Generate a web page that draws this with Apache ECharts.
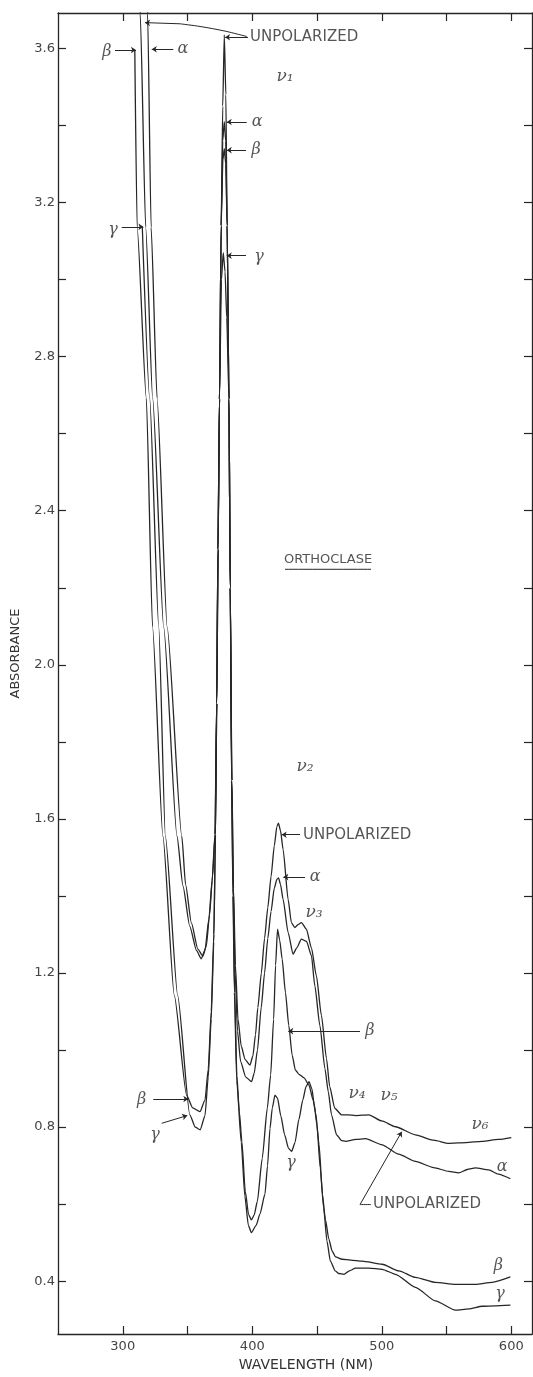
<!DOCTYPE html>
<html><head><meta charset="utf-8">
<script src="https://cdn.jsdelivr.net/npm/echarts@6/dist/echarts.min.js"></script>
<style>html,body{margin:0;padding:0;background:#fff}#c{width:533px;height:1377px}</style>
</head><body><div id="c"></div>
<script>
// ---- data (wavelength nm, absorbance) ----
const unpolWl  = [312.9,313.5,317.7,323.1,331.6,341.9,346.5,351.7,357.0,360.6,363.5,366.5,369.0,371.2,372.5,373.5,374.7,376.0,377.2,378.4,379.6,380.6,382.0,383.0,384.3,385.5,387.0,389.0,391.5,394.5,398.2,400.5,402.5,404.3,407.0,409.5,412.0,414.5,417.0,419.0,420.2,421.8,423.8,427.7,430.2,432.8,435.5,438.0,441.8,445.7,449.5,453.4,457.3,459.8,463.7,468.9,474.0,479.7,490.0,500.0,510.6,526.0,540.0,551.8,565.0,577.5,590.0,600.0];
const unpolAbs = [3.75,3.69,3.136,2.692,2.098,1.555,1.426,1.322,1.258,1.237,1.26,1.34,1.44,1.56,1.90,2.30,2.69,3.14,3.45,3.635,3.48,3.14,2.69,2.20,1.70,1.42,1.22,1.08,1.01,0.975,0.961,0.985,1.04,1.11,1.20,1.29,1.37,1.45,1.53,1.58,1.589,1.57,1.521,1.391,1.331,1.318,1.326,1.331,1.314,1.265,1.193,1.090,0.978,0.905,0.849,0.832,0.832,0.830,0.832,0.816,0.801,0.780,0.766,0.758,0.760,0.763,0.768,0.773];

const alphaWl  = [318.8,319.2,321.9,326.5,334.3,345.6,348.5,353.0,358.0,361.9,364.5,367.0,369.3,371.3,372.5,373.5,374.7,376.0,377.2,378.4,379.5,380.6,382.0,383.0,384.2,385.4,386.8,388.6,391.0,395.0,399.5,401.5,404.0,406.9,409.5,412.0,414.5,417.0,419.0,420.3,421.8,423.8,427.7,431.5,434.5,437.9,441.9,445.7,448.3,452.2,456.1,458.7,461.2,465.1,469.0,472.0,480.0,487.4,500.3,513.0,526.0,540.0,551.8,559.5,566.0,572.3,582.6,590.0,599.3];
const alphaAbs = [3.75,3.69,3.136,2.692,2.098,1.555,1.43,1.33,1.262,1.244,1.27,1.35,1.45,1.56,1.90,2.30,2.69,3.14,3.36,3.41,3.36,3.14,2.69,2.20,1.70,1.42,1.20,1.05,0.97,0.93,0.918,0.94,1.00,1.11,1.20,1.29,1.36,1.42,1.443,1.447,1.43,1.391,1.305,1.249,1.266,1.288,1.282,1.245,1.167,1.064,0.952,0.892,0.832,0.780,0.765,0.763,0.768,0.770,0.754,0.730,0.711,0.695,0.685,0.681,0.690,0.694,0.689,0.678,0.666];

const betaWl  = [309.3,311.1,318.2,323.0,331.0,339.8,349.3,354.0,359.6,363.5,366.0,368.3,370.3,371.6,372.6,373.6,374.7,376.0,377.3,378.4,379.5,380.6,382.0,383.0,384.1,385.2,386.4,388.1,390.0,392.0,394.6,397.2,399.3,401.5,403.9,407.7,411.6,414.2,416.5,418.0,419.5,421.2,423.1,425.6,428.2,430.8,433.3,436.1,440.0,443.8,447.0,449.0,451.6,454.2,456.5,459.1,461.7,464.3,469.4,476.0,484.8,500.3,513.2,526.0,541.4,556.9,572.3,585.2,599.3];
const betaAbs = [3.596,3.136,2.692,2.098,1.555,1.142,0.883,0.850,0.840,0.87,0.95,1.10,1.30,1.56,1.90,2.30,2.69,3.14,3.31,3.34,3.30,3.14,2.69,2.20,1.70,1.40,1.15,0.935,0.84,0.762,0.633,0.573,0.559,0.572,0.607,0.719,0.849,0.935,1.08,1.22,1.314,1.285,1.236,1.150,1.064,0.987,0.948,0.937,0.928,0.909,0.870,0.835,0.754,0.625,0.560,0.510,0.478,0.463,0.457,0.455,0.452,0.444,0.427,0.410,0.397,0.392,0.392,0.397,0.411];

const gammaWl  = [315.1,320.8,327.8,332.9,342.4,351.8,356.0,359.8,363.5,366.0,368.3,370.3,371.6,372.6,373.6,374.7,376.2,377.6,379.0,380.3,382.0,383.0,384.0,385.1,386.2,388.0,391.5,394.3,397.0,399.3,403.0,406.0,409.8,411.8,413.7,415.5,417.5,419.5,422.0,425.0,428.0,430.4,433.0,436.0,439.0,441.5,443.8,446.0,447.8,449.9,452.5,455.1,457.7,460.3,464.1,466.9,470.8,475.0,479.7,490.0,500.3,510.6,526.0,541.4,556.9,567.2,577.5,599.3];
const gammaAbs = [3.136,2.692,2.098,1.555,1.142,0.832,0.800,0.793,0.83,0.93,1.08,1.28,1.56,1.90,2.30,2.69,3.00,3.07,3.02,2.90,2.69,2.20,1.70,1.40,1.15,0.92,0.76,0.62,0.545,0.526,0.545,0.575,0.626,0.70,0.797,0.85,0.883,0.875,0.830,0.780,0.745,0.737,0.760,0.820,0.870,0.905,0.918,0.900,0.860,0.806,0.694,0.590,0.504,0.452,0.427,0.420,0.418,0.427,0.434,0.434,0.431,0.418,0.384,0.349,0.325,0.328,0.335,0.338];

// ---- axes ----
const xTicks = [300,350,400,450,500,550,600];
const xTickLabels = [300,400,500,600];
const yTicks = [0.4,0.6,0.8,1.0,1.2,1.4,1.6,1.8,2.0,2.2,2.4,2.6,2.8,3.0,3.2,3.4,3.6];
const yTickLabels = [0.4,0.8,1.2,1.6,2.0,2.4,2.8,3.2,3.6];

// ---- annotations (text, wavelength, absorbance, align, kind) ----
const noteTexts = [
  ['UNPOLARIZED',398.3,3.630,'left','caps'],
  ['α',346.5,3.598,'center','greek'],
  ['β',287.8,3.591,'center','greek'],
  ['γ',292.5,3.129,'center','greek'],
  ['ν₁',425.3,3.527,'center','nu'],
  ['α',403.7,3.409,'center','greek'],
  ['β',402.9,3.336,'center','greek'],
  ['γ',405.2,3.059,'center','greek'],
  ['ORTHOCLASE',458.5,2.273,'center','small'],
  ['ν₂',440.7,1.736,'center','nu'],
  ['UNPOLARIZED',439.2,1.559,'left','caps'],
  ['α',448.5,1.449,'center','greek'],
  ['ν₃',447.7,1.356,'center','nu'],
  ['β',490.9,1.049,'center','greek'],
  ['ν₄',480.9,0.886,'center','nu'],
  ['ν₅',505.6,0.883,'center','nu'],
  ['ν₆',575.9,0.806,'center','nu'],
  ['α',592.9,0.697,'center','greek'],
  ['UNPOLARIZED',493.2,0.599,'left','caps'],
  ['β',590.0,0.440,'center','greek'],
  ['γ',591.3,0.366,'center','greek'],
  ['β',314.6,0.870,'center','greek'],
  ['γ',324.9,0.780,'center','greek'],
  ['γ',429.9,0.707,'center','greek']
];
// arrows: [x at curve, y at curve, x at label, y at label]
const noteArrows = [
  [322.4,3.598,339.0,3.598],
  [310.2,3.596,294.0,3.596],
  [315.9,3.137,299.2,3.137],
  [379.0,3.629,396.7,3.629],
  [317.2,3.667,344.2,3.664],
  [380.3,3.409,395.7,3.409],
  [380.3,3.336,395.2,3.336],
  [380.3,3.062,395.2,3.062],
  [422.7,1.559,436.9,1.559],
  [424.0,1.449,440.7,1.449],
  [427.8,1.049,483.2,1.049],
  [350.6,0.873,323.6,0.873],
  [349.8,0.830,330.1,0.810],
  [515.4,0.788,483.2,0.599]
];
// plain leader strokes (polylines)
const notePolylines = [
  [[344.2,3.664],[359.7,3.657],[379.0,3.645],[395.7,3.631]],
  [[483.2,0.599],[491.7,0.599]],
  [[425.3,2.248],[491.7,2.248]]
];

const pairs = (xs, ys) => xs.map((x, i) => [x, ys[i]]);
const ink = '#262626';
function curve(name, xs, ys) {
  return { type:'line', name, data: pairs(xs, ys), symbol:'none', showSymbol:false,
    smooth:0.2, smoothMonotone:'x', clip:true, silent:true, z:3,
    lineStyle:{ color:ink, width:1.3 } };
}
const fonts = {
  caps:{ fontFamily:'DejaVu Sans', fontSize:15, color:'#2a2a2a' },
  small:{ fontFamily:'DejaVu Sans', fontSize:13, color:'#2a2a2a' },
  greek:{ fontFamily:'DejaVu Serif', fontStyle:'italic', fontSize:16, color:'#2a2a2a' },
  nu:{ fontFamily:'DejaVu Serif', fontStyle:'italic', fontSize:17, color:'#2a2a2a' }
};
const polySeries = notePolylines.map(pl => ({
  type:'line', data: pl, symbol:'none', showSymbol:false, silent:true, clip:false, z:4,
  lineStyle:{ color:ink, width:1 }, smooth:0.3
}));

const option = {
  animation:false,
  backgroundColor:'#fff',
  grid:{ left:58, right:1, top:13, bottom:37, containLabel:false },
  xAxis:[
    { type:'value', position:'bottom', min:250, max:616,
      name:'WAVELENGTH (NM)', nameLocation:'middle', nameGap:24,
      nameTextStyle:{ fontFamily:'DejaVu Sans', fontSize:14, color:'#333', padding:[0,0,0,22] },
      axisLine:{ show:true, onZero:false, lineStyle:{ color:ink, width:1.3 } },
      axisTick:{ show:true, inside:true, length:8, customValues:xTicks, lineStyle:{ color:ink, width:1.2 } },
      axisLabel:{ show:true, customValues:xTickLabels, margin:6, fontFamily:'DejaVu Sans', fontSize:13, color:'#444' },
      splitLine:{ show:false } },
    { type:'value', position:'top', min:250, max:616,
      axisLine:{ show:true, onZero:false, lineStyle:{ color:ink, width:1.3 } },
      axisTick:{ show:true, inside:true, length:8, customValues:xTicks, lineStyle:{ color:ink, width:1.2 } },
      axisLabel:{ show:false }, splitLine:{ show:false } }
  ],
  yAxis:[
    { type:'value', position:'left', min:0.263, max:3.692,
      name:'ABSORBANCE', nameLocation:'middle', nameGap:36,
      nameTextStyle:{ fontFamily:'DejaVu Sans', fontSize:13, color:'#333', padding:[0,0,0,40] },
      axisLine:{ show:true, onZero:false, lineStyle:{ color:ink, width:1.3 } },
      axisTick:{ show:true, inside:true, length:8, customValues:yTicks, lineStyle:{ color:ink, width:1.2 } },
      axisLabel:{ show:true, customValues:yTickLabels, margin:3, fontFamily:'DejaVu Sans', fontSize:13, color:'#444',
        formatter: v => v.toFixed(1) },
      splitLine:{ show:false } },
    { type:'value', position:'right', min:0.263, max:3.692,
      axisLine:{ show:true, onZero:false, lineStyle:{ color:ink, width:1.3 } },
      axisTick:{ show:true, inside:true, length:8, customValues:yTicks, lineStyle:{ color:ink, width:1.2 } },
      axisLabel:{ show:false }, splitLine:{ show:false } }
  ],
  series:[
    curve('UNPOLARIZED', unpolWl, unpolAbs),
    curve('α', alphaWl, alphaAbs),
    curve('β', betaWl, betaAbs),
    curve('γ', gammaWl, gammaAbs),
    { type:'scatter', name:'notes', symbolSize:0, silent:true, z:5, clip:false,
      data: noteTexts.map(n => ({ value:[n[1], n[2]], t:n[0],
        label:Object.assign({ show:true, position:[0,0], align:n[3], verticalAlign:'middle',
          formatter: p => p.data.t }, fonts[n[4]]) })),
      markLine:{ silent:true, symbol:['arrow','none'], symbolSize:5, precision:3,
        label:{ show:false }, lineStyle:{ color:ink, width:1, type:'solid' }, emphasis:{ disabled:true },
        data: noteArrows.map(a => [{ coord:[a[0], a[1]] }, { coord:[a[2], a[3]] }]) } },
    ...polySeries
  ]
};
const chart = echarts.init(document.getElementById('c'), null, { renderer:'canvas' });
chart.setOption(option);
</script>
</body></html>
